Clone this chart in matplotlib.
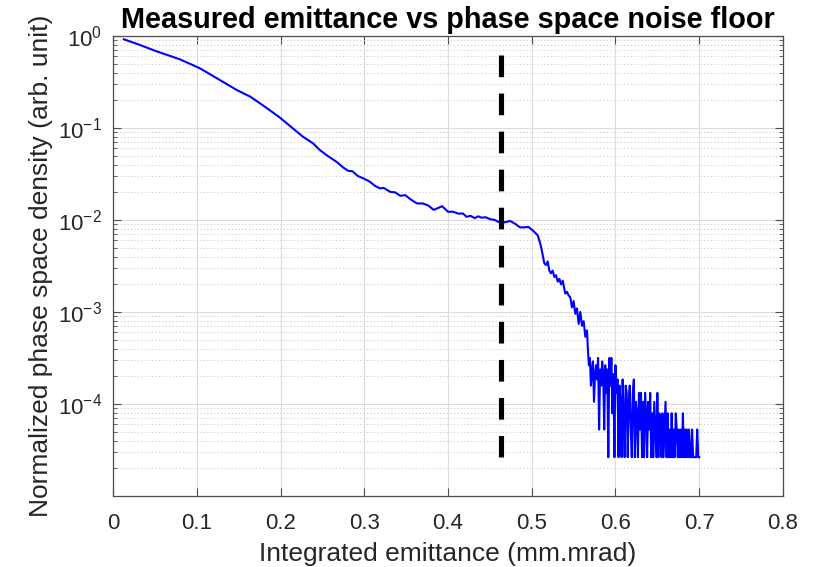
import numpy as np
import matplotlib
matplotlib.use("Agg")
import matplotlib.pyplot as plt
from matplotlib.ticker import FixedLocator, NullFormatter, LogFormatterSciNotation

plt.rcParams['font.family'] = ['Liberation Sans', 'DejaVu Sans']
plt.rcParams['mathtext.fontset'] = 'custom'
plt.rcParams['mathtext.rm'] = 'Liberation Sans'
plt.rcParams['mathtext.it'] = 'Liberation Sans'
plt.rcParams['mathtext.default'] = 'regular'
plt.rcParams['lines.scale_dashes'] = False

# ---- data ----
# smooth part: emittance and log10(density)
smooth_x = [0.013, 0.030, 0.050, 0.080, 0.104, 0.125, 0.148, 0.164, 0.180, 0.199,
            0.213, 0.227, 0.239, 0.247, 0.255, 0.267, 0.275, 0.281, 0.286, 0.292,
            0.299, 0.306, 0.313, 0.319, 0.323, 0.331, 0.337, 0.343, 0.349, 0.356,
            0.363, 0.370, 0.376, 0.383, 0.388, 0.393, 0.400, 0.406, 0.412, 0.418,
            0.422, 0.427, 0.432, 0.436, 0.440, 0.445, 0.450, 0.456, 0.460, 0.465,
            0.470, 0.474, 0.480, 0.486, 0.491, 0.496, 0.502, 0.507, 0.510, 0.512,
            0.515, 0.517, 0.519, 0.521, 0.523, 0.525, 0.527, 0.529, 0.531, 0.533,
            0.535, 0.537, 0.540, 0.542, 0.544, 0.546, 0.548, 0.550, 0.552, 0.554,
            0.556, 0.558, 0.560, 0.562, 0.564, 0.566]
smooth_log = [-0.036, -0.090, -0.160, -0.254, -0.352, -0.465, -0.588, -0.660, -0.760, -0.885,
              -0.990, -1.096, -1.168, -1.240, -1.295, -1.368, -1.430, -1.466, -1.470, -1.520,
              -1.548, -1.580, -1.630, -1.657, -1.650, -1.694, -1.700, -1.737, -1.730, -1.780,
              -1.820, -1.820, -1.840, -1.890, -1.870, -1.850, -1.911, -1.910, -1.930, -1.930,
              -1.965, -1.955, -1.980, -1.960, -1.975, -1.970, -1.990, -2.000, -2.020, -2.030,
              -2.020, -2.010, -2.040, -2.080, -2.080, -2.075, -2.120, -2.165, -2.250, -2.330,
              -2.470, -2.490, -2.450, -2.550, -2.580, -2.550, -2.620, -2.600, -2.670, -2.640,
              -2.700, -2.660, -2.800, -2.780, -2.820, -2.840, -2.950, -2.880, -3.020, -2.960,
              -3.130, -3.000, -3.150, -3.100, -3.270, -3.200]
# noise region: counts of the noise-floor unit, from 0.567 to 0.700
noise_counts = [15, 10, 12, 6, 9, 11, 4, 8, 10, 7, 12, 2, 9, 6, 11, 8, 2, 10, 5, 9,
                1, 12, 6, 12, 3, 8, 1, 10, 5, 7, 1, 6, 4, 1, 7, 3, 1, 6, 5, 1,
                4, 6, 2, 1, 5, 7, 1, 4, 3, 1, 5, 2, 5, 1, 4, 1, 5, 3, 1, 4,
                2, 5, 1, 3, 1, 4, 2, 1, 5, 1, 3, 2, 1, 3, 1, 2, 4, 1, 3, 1,
                2, 1, 3, 1, 2, 1, 3, 2, 1, 2, 1, 2, 1, 3, 1, 2, 1, 2, 1, 2,
                1, 1, 2, 1, 1, 1, 1, 2, 1, 1]
noise_x_range = (0.567, 0.700)
floor_unit = 2.64e-5

cut_x = 0.463
cut_y = (2.64e-5, 0.62)

x_ticks = [0, 0.1, 0.2, 0.3, 0.4, 0.5, 0.6, 0.7, 0.8]
x_ticklabels = ['0', '0.1', '0.2', '0.3', '0.4', '0.5', '0.6', '0.7', '0.8']
y_ticks = [1e-4, 1e-3, 1e-2, 1e-1, 1e0]

# ---- build series ----
noise_x = np.linspace(noise_x_range[0], noise_x_range[1], len(noise_counts))
x = np.concatenate([np.array(smooth_x), noise_x])
y = np.concatenate([10.0 ** np.array(smooth_log), floor_unit * np.array(noise_counts)])

fig = plt.figure(figsize=(8.2, 5.67), dpi=100)
ax = fig.add_axes([113/820, 1 - 496/567, (783-113)/820, (496-36)/567])

ax.semilogy(x, y, color=(0, 0, 1), lw=1.5, zorder=3)
ax.plot([cut_x, cut_x], [cut_y[1], cut_y[0]], color='black', lw=3.7,
        dashes=(15.6, 11.8), solid_capstyle='butt', dash_capstyle='butt', zorder=4)

ax.set_xlim(0, 0.8)
ax.set_ylim(1e-5, 1e0)
ax.set_xticks(x_ticks)
ax.set_xticklabels(x_ticklabels)
ax.yaxis.set_major_locator(FixedLocator(y_ticks))
ax.yaxis.set_major_formatter(LogFormatterSciNotation())
minor = [m * 10.0 ** e for e in range(-5, 0) for m in range(2, 10)]
ax.yaxis.set_minor_locator(FixedLocator(minor))
ax.yaxis.set_minor_formatter(NullFormatter())

for s in ax.spines.values():
    s.set_color('#4d4d4d')
    s.set_linewidth(0.9)
ax.tick_params(which='both', direction='in', top=True, right=True, colors='#4d4d4d',
               labelcolor='#262626', labelsize=16)
ax.tick_params(which='major', length=6, width=0.8)
ax.tick_params(axis='x', which='major', pad=12)
ax.tick_params(axis='y', which='major', pad=8)
ax.tick_params(which='minor', length=3, width=0.6)
ax.tick_params(axis='x', which='minor', bottom=False, top=False)

ax.grid(True, which='major', axis='both', color='#dcdcdc', lw=0.8, ls='-')
ax.grid(True, which='minor', axis='y', color='#d2d2d2', lw=0.7, ls=(0, (1, 1.5)))
ax.set_axisbelow(True)

ax.set_xlabel('Integrated emittance (mm.mrad)', fontsize=19, color='#262626')
ax.set_ylabel('Normalized phase space density (arb. unit)', fontsize=19, color='#262626')
ax.xaxis.set_label_coords(0.5, -0.100)
ax.yaxis.set_label_coords(-0.089, 0.5)
ax.set_title('Measured emittance vs phase space noise floor', fontsize=20.8,
             fontweight='bold', color='black', pad=5.8)

fig.savefig('out.png', dpi=100)
